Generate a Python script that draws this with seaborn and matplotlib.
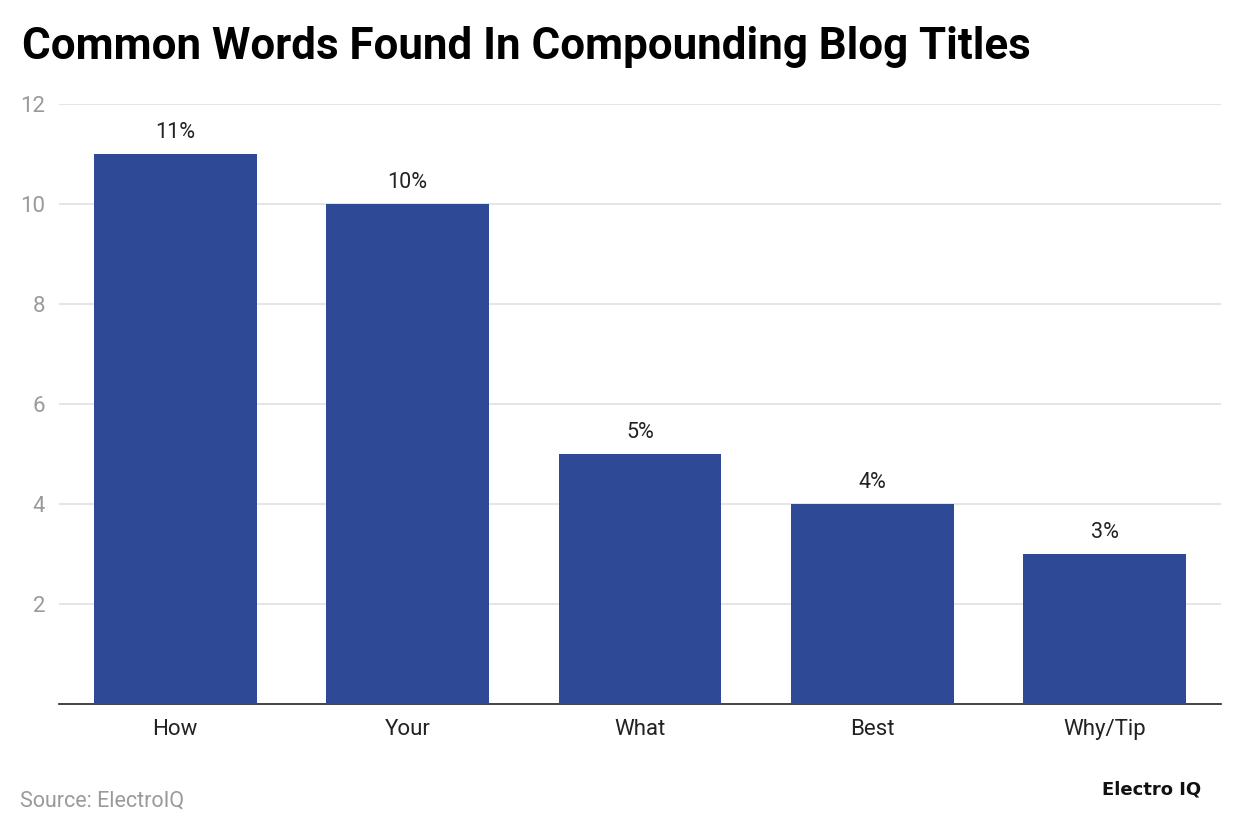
import seaborn as sns
import matplotlib.pyplot as plt
import pandas as pd

# data
words = ["How", "Your", "What", "Best", "Why/Tip"]
shares = [11, 10, 5, 4, 3]
yticks = [2, 4, 6, 8, 10, 12]

df = pd.DataFrame({"word": words, "share": shares})

sns.set_style("white")
plt.rcParams["font.family"] = ["Roboto", "DejaVu Sans"]

fig = plt.figure(figsize=(12.4, 8.34), dpi=100)
ax = fig.add_axes([0.0476, 0.1559, 0.9371, 0.7194])

sns.barplot(data=df, x="word", y="share", color="#2e4995", saturation=1,
            width=0.70, linewidth=0, ax=ax, zorder=3)

for i, v in enumerate(shares):
    ax.text(i, v + 0.22, f"{v}%", ha="center", va="bottom", fontsize=15.5, color="#222222")

ax.set_xlim(-0.5, 4.5)
ax.set_ylim(0, 12)
ax.set_yticks(yticks)
ax.set_yticklabels([str(t) for t in yticks])
ax.yaxis.grid(True, color="#e0e0e0", linewidth=1.2, zorder=0)
ax.set_xlabel("")
ax.set_ylabel("")
ax.tick_params(axis="y", length=0, labelsize=16, labelcolor="#9a9a9a", pad=10)
ax.tick_params(axis="x", length=0, labelsize=16, labelcolor="#222222", pad=11)
for s in ["top", "right", "left"]:
    ax.spines[s].set_visible(False)
ax.spines["bottom"].set_color("#222222")
ax.spines["bottom"].set_linewidth(1.2)

fig.text(0.018, 0.944, "Common Words Found In Compounding Blog Titles",
         fontsize=31.6, fontweight="bold", color="#000000", va="center", ha="left")
fig.text(0.016, 0.040, "Source: ElectroIQ", fontsize=15.5, color="#9a9a9a", va="center")
fig.text(0.969, 0.053, "Electro IQ", fontsize=13, fontweight="bold", color="#111111",
         va="center", ha="right", family="DejaVu Sans")

fig.savefig("out.png", dpi=100)
